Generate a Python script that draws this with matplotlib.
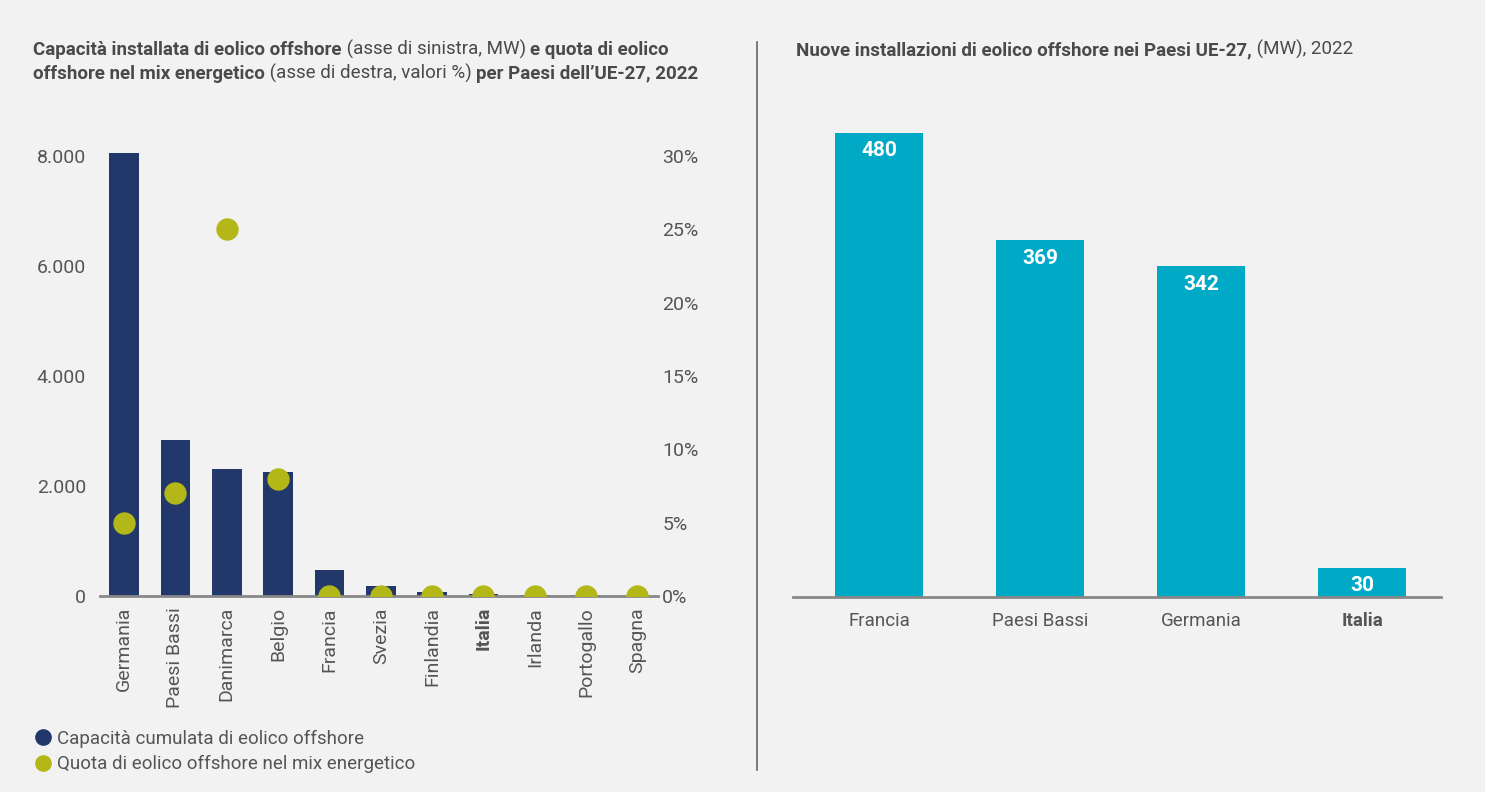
import matplotlib
matplotlib.use("Agg")
import matplotlib.pyplot as plt
from matplotlib.lines import Line2D
from matplotlib.ticker import FuncFormatter

plt.rcParams["font.family"] = ["Roboto", "DejaVu Sans"]

# data
paesi = ["Germania", "Paesi Bassi", "Danimarca", "Belgio", "Francia", "Svezia",
         "Finlandia", "Italia", "Irlanda", "Portogallo", "Spagna"]
capacita_mw = [8050, 2830, 2310, 2260, 480, 190, 75, 30, 25, 25, 5]
quota_pct = [5, 7, 25, 8, 0, 0, 0, 0, 0, 0, 0]

paesi_nuove = ["Francia", "Paesi Bassi", "Germania", "Italia"]
nuove_mw = [480, 369, 342, 30]

BG = "#f2f2f2"
NAVY = "#22386b"
OLIVE = "#b3b718"
TEAL = "#00a9c6"
GREY = "#555555"
TITLE = "#4a4a4a"

W, H = 1485, 792
fig = plt.figure(figsize=(W / 100, H / 100), dpi=100, facecolor=BG)


def px(x0, y0, x1, y1):
    return [x0 / W, 1 - y1 / H, (x1 - x0) / W, (y1 - y0) / H]


def rich_line(x, y, parts, size=13.5):
    """Write text segments of mixed weight one after another."""
    r = fig.canvas.get_renderer()
    cx = x
    for txt, bold in parts:
        t = fig.text(cx / W, 1 - y / H, txt, fontsize=size, color=TITLE,
                     fontweight="bold" if bold else "normal", va="baseline")
        bb = t.get_window_extent(renderer=r)
        cx += bb.width


# ---- left chart ----
ax = fig.add_axes(px(100, 130, 658, 596))
ax.set_facecolor("none")
xs = range(len(paesi))
ax.bar(xs, capacita_mw, width=0.58, color=NAVY, zorder=2)
ax.set_xlim(-0.47, 10.4)
ax.set_ylim(0, 8000 * 466 / 440)
ax.set_yticks([0, 2000, 4000, 6000, 8000])
ax.yaxis.set_major_formatter(FuncFormatter(lambda v, p: f"{int(v):,}".replace(",", ".")))
ax.set_xticks(list(xs))
ax.set_xticklabels(paesi, rotation=90, va="top", ha="center")
for lab in ax.get_xticklabels():
    if lab.get_text() == "Italia":
        lab.set_fontweight("bold")
ax.tick_params(axis="both", length=0, colors=GREY, labelsize=14)
ax.tick_params(axis="y", pad=10)
ax.tick_params(axis="x", pad=8)
for s in ["top", "right", "left"]:
    ax.spines[s].set_visible(False)
ax.spines["bottom"].set_color("#888888")
ax.spines["bottom"].set_linewidth(2)
ax.spines["bottom"].set_zorder(5)

ax2 = ax.twinx()
ax2.scatter(xs, quota_pct, s=260, color=OLIVE, zorder=3, linewidths=0)
ax2.set_ylim(0, 30 * 466 / 440)
ax2.set_yticks([0, 5, 10, 15, 20, 25, 30])
ax2.yaxis.set_major_formatter(FuncFormatter(lambda v, p: f"{int(v)}%"))
ax2.tick_params(axis="y", length=0, colors=GREY, labelsize=14, pad=3)
for s in ax2.spines.values():
    s.set_visible(False)

rich_line(33, 55, [("Capacità installata di eolico offshore", True),
                   (" (asse di sinistra, MW) ", False),
                   ("e quota di eolico", True)])
rich_line(33, 79, [("offshore nel mix energetico", True),
                   (" (asse di destra, valori %) ", False),
                   ("per Paesi dell’UE-27, 2022", True)])

handles = [Line2D([], [], marker="o", linestyle="", color=NAVY, markersize=11),
           Line2D([], [], marker="o", linestyle="", color=OLIVE, markersize=11)]
fig.legend(handles, ["Capacità cumulata di eolico offshore",
                     "Quota di eolico offshore nel mix energetico"],
           loc="upper left", bbox_to_anchor=(26 / W, 1 - 722 / H), frameon=False,
           fontsize=13.5, labelcolor=GREY, handletextpad=0.25, labelspacing=0.4,
           borderaxespad=0, handlelength=1.0)

# divider
fig.add_artist(Line2D([757 / W, 757 / W], [1 - 42 / H, 1 - 770 / H],
                      color="#666666", linewidth=1.2))

# ---- right chart ----
ax3 = fig.add_axes(px(793, 120, 1441, 597))
ax3.set_facecolor("none")
xr = range(len(paesi_nuove))
bars = ax3.bar(xr, nuove_mw, width=0.55, color=TEAL)
ax3.set_xlim(-0.534, 3.49)
ax3.set_ylim(0, 477 / 0.9667)
ax3.set_yticks([])
ax3.set_xticks(list(xr))
ax3.set_xticklabels(paesi_nuove)
for lab in ax3.get_xticklabels():
    if lab.get_text() == "Italia":
        lab.set_fontweight("bold")
ax3.tick_params(axis="x", length=0, colors=GREY, labelsize=13.5, pad=11)
for s in ["top", "right", "left"]:
    ax3.spines[s].set_visible(False)
ax3.spines["bottom"].set_color("#888888")
ax3.spines["bottom"].set_linewidth(2)
for b, v in zip(bars, nuove_mw):
    ax3.annotate(str(v), (b.get_x() + b.get_width() / 2, v), xytext=(0, -18),
                 textcoords="offset pixels", ha="center", va="center",
                 color="white", fontweight="bold", fontsize=15)

rich_line(796, 55, [("Nuove installazioni di eolico offshore nei Paesi UE-27,", True),
                    (" (MW), 2022", False)])

fig.savefig("out.png", dpi=100, facecolor=BG)
